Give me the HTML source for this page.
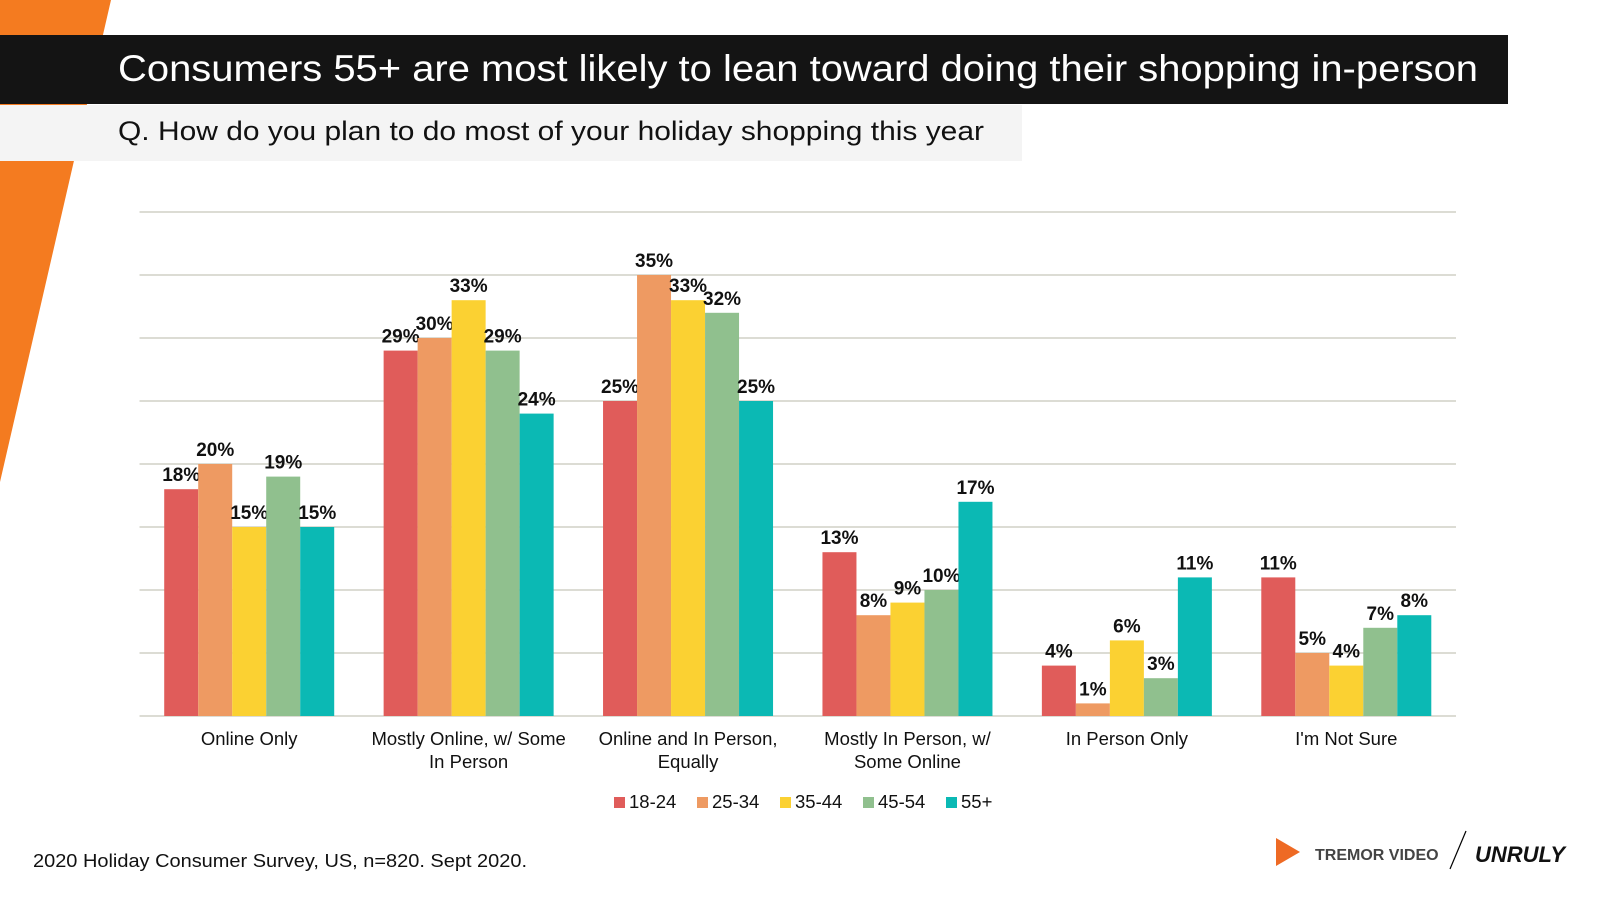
<!DOCTYPE html>
<html><head><meta charset="utf-8"><style>
body{margin:0;width:1600px;height:900px;position:relative;background:#fff;font-family:"Liberation Sans",Arial,sans-serif;overflow:hidden}
</style></head><body>
<svg width="1600" height="900" style="position:absolute;left:0;top:0">
<polygon points="0,0 111,0 0,482" fill="#F47B20"/>
<rect x="0" y="35" width="1508" height="69" fill="#141414"/>
<text x="118" y="81" font-size="37" fill="#fff" textLength="1360" lengthAdjust="spacingAndGlyphs" font-family="Liberation Sans, sans-serif">Consumers 55+ are most likely to lean toward doing their shopping in-person</text>
<rect x="0" y="105" width="1022" height="56" fill="#f4f4f4"/>
<text x="118" y="140" font-size="27" fill="#111" textLength="866" lengthAdjust="spacingAndGlyphs" font-family="Liberation Sans, sans-serif">Q. How do you plan to do most of your holiday shopping this year</text>
<g id="chart"></g>
<text x="33" y="867" font-size="18.5" fill="#111" textLength="494" lengthAdjust="spacingAndGlyphs" font-family="Liberation Sans, sans-serif">2020 Holiday Consumer Survey, US, n=820. Sept 2020.</text>
<g>
<polygon points="1276,838 1300,852 1276,866" fill="#EE6A24"/>
<text x="1315" y="860" font-size="16" font-weight="bold" fill="#444" font-family="Liberation Sans, sans-serif">TREMOR VIDEO</text>
</g>
<line x1="1466" y1="831" x2="1450" y2="869" stroke="#000" stroke-width="1.2"/>
<text x="1475" y="862" font-size="22" font-weight="bold" font-style="italic" fill="#111" font-family="Liberation Sans, sans-serif">UNRULY</text>
</svg>
<script>
const categories=[["Online Only"],["Mostly Online, w/ Some","In Person"],["Online and In Person,","Equally"],["Mostly In Person, w/","Some Online"],["In Person Only"],["I'm Not Sure"]];
const seriesNames=["18-24","25-34","35-44","45-54","55+"];
const s1824=[18,29,25,13,4,11];
const s2534=[20,30,35,8,1,5];
const s3544=[15,33,33,9,6,4];
const s4554=[19,29,32,10,3,7];
const s55=[15,24,25,17,11,8];
const yTicks=[0,5,10,15,20,25,30,35,40];
const series=[s1824,s2534,s3544,s4554,s55];
const colors=["#E05C5A","#EE9A62","#FBD132","#90C08E","#0BB9B4"];
const NS="http://www.w3.org/2000/svg";
const g=document.getElementById("chart");
const x0=139.5,x1=1456,yBase=716,yTop=212,yMax=40;
const y=v=>yBase-(v/yMax)*(yBase-yTop);
const gw=(x1-x0)/categories.length,bw=34;
function mk(t,a){const e=document.createElementNS(NS,t);for(const k in a)e.setAttribute(k,a[k]);g.appendChild(e);return e;}
yTicks.forEach(t=>{const l=mk("line",{x1:x0,x2:x1,y1:y(t),y2:y(t),stroke:"#dcdcd4","stroke-width":2});

});
categories.forEach((c,i)=>{
 const start=x0+i*gw+(gw-bw*5)/2;
 series.forEach((s,j)=>{
  const bx=start+j*bw;
  const r=mk("rect",{x:bx,y:y(s[i]),width:bw,height:yBase-y(s[i]),fill:colors[j]});
  
  
  const t=mk("text",{x:bx+bw/2,y:y(s[i])-8,"text-anchor":"middle","font-size":19,"font-weight":"bold",fill:"#111"});
  t.textContent=s[i]+"%";
  
  
 });
 c.forEach((line,k)=>{
  const t=mk("text",{x:x0+i*gw+gw/2,y:745+k*23,"text-anchor":"middle","font-size":18.5,fill:"#111"});
  t.textContent=line;
  
  
 });
});
let lx=614;
seriesNames.forEach((n,j)=>{
 const r=mk("rect",{x:lx,y:797,width:11,height:11,fill:colors[j]});
 
 
 const t=mk("text",{x:lx+15,y:808,"font-size":18.5,fill:"#111"});
 t.textContent=n;
 
 
 lx+=83;
});
</script>
</body></html>
